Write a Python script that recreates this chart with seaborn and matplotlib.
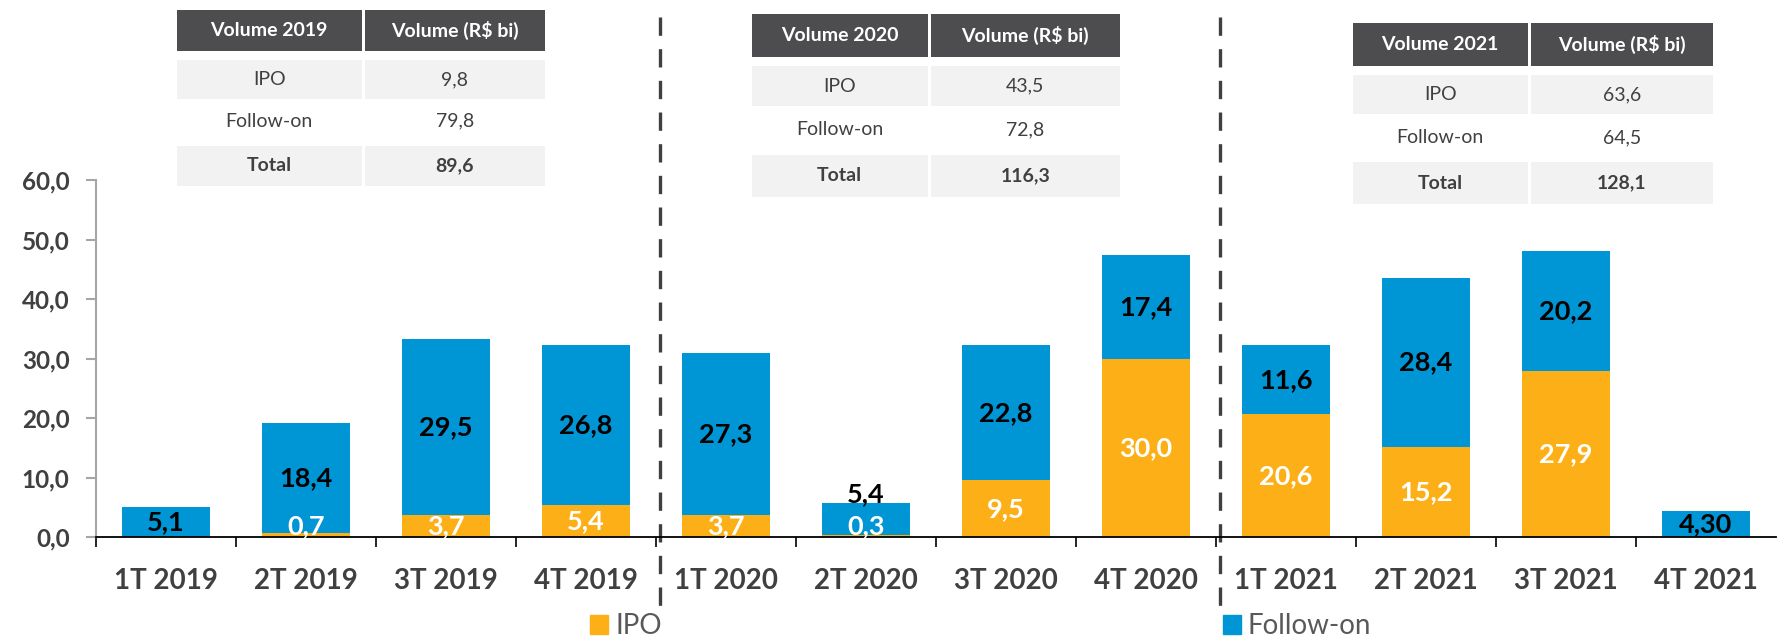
import numpy as np
import pandas as pd
import matplotlib
matplotlib.use("Agg")
import matplotlib.pyplot as plt
import seaborn as sns
from matplotlib.patches import Rectangle, Patch
from matplotlib.transforms import blended_transform_factory

# data (R$ bi)
quarters = ["1T 2019", "2T 2019", "3T 2019", "4T 2019",
            "1T 2020", "2T 2020", "3T 2020", "4T 2020",
            "1T 2021", "2T 2021", "3T 2021", "4T 2021"]
ipo = [0.0, 0.7, 3.7, 5.4, 3.7, 0.3, 9.5, 30.0, 20.6, 15.2, 27.9, 0.0]
follow_on = [5.1, 18.4, 29.5, 26.8, 27.3, 5.4, 22.8, 17.4, 11.6, 28.4, 20.2, 4.3]
follow_labels = ["5,1", "18,4", "29,5", "26,8", "27,3", "5,4",
                 "22,8", "17,4", "11,6", "28,4", "20,2", "4,30"]

table_years = ["2019", "2020", "2021"]
table_ipo = [9.8, 43.5, 63.6]
table_follow = [79.8, 72.8, 64.5]
table_total = [89.6, 116.3, 128.1]

yticks = [0, 10, 20, 30, 40, 50, 60]

ORANGE = "#FCAF17"
BLUE = "#0096D6"
DARK = "#404040"
HEADER = "#4D4D4F"
LIGHT = "#F2F2F2"

W, H = 1779, 637


def br(v, d=1):
    return f"{v:.{d}f}".replace(".", ",")


sns.set_theme(style="white")
plt.rcParams["font.family"] = ["Lato", "DejaVu Sans"]

fig = plt.figure(figsize=(W / 100, H / 100), dpi=100)
ax = fig.add_axes([96 / W, 1 - 537 / H, 1680 / W, (537 - 180) / H])

df = pd.DataFrame({"quarter": quarters, "ipo": ipo, "follow": follow_on})
df["total"] = df["ipo"] + df["follow"]

# stacked bars: full height in blue, IPO part over it in orange
sns.barplot(data=df, x="quarter", y="total", color=BLUE, width=0.63,
            saturation=1, linewidth=0, ax=ax)
sns.barplot(data=df, x="quarter", y="ipo", color=ORANGE, width=0.63,
            saturation=1, linewidth=0, ax=ax)

ax.set_xlim(-0.5, 11.5)
ax.set_ylim(0, 60)
ax.set_xlabel("")
ax.set_ylabel("")

for s in ["top", "right"]:
    ax.spines[s].set_visible(False)
ax.spines["bottom"].set_color("black")
ax.spines["bottom"].set_linewidth(1.3)
ax.spines["left"].set_color("#A6A6A6")
ax.spines["left"].set_linewidth(1.5)

ax.set_yticks(yticks)
ax.set_yticklabels([br(v) for v in yticks], fontweight="bold")
ax.tick_params(axis="y", left=True, length=7, width=1.5, color="#A6A6A6",
               pad=12, labelsize=17.5, labelcolor=DARK)

ax.set_xticks(range(len(quarters)))
ax.set_xticklabels(quarters, fontweight="bold")
ax.set_xticks(np.arange(-0.5, 11, 1), minor=True)
ax.tick_params(axis="x", which="major", length=0, pad=22, labelsize=20,
               labelcolor=DARK)
ax.tick_params(axis="x", which="minor", bottom=True, length=7.5, width=1.2,
               color="black", direction="out")

# value labels
for i, (a, b, fl) in enumerate(zip(ipo, follow_on, follow_labels)):
    nudged = False
    if a > 0:
        ya = a / 2
        if ya < 1.9:
            ya = 1.9
            nudged = True
        ax.text(i, ya, br(a), ha="center", va="center", color="white",
                fontsize=19.5, fontweight="bold")
    if nudged and b < 8:
        yb = a + b + 1.5
    else:
        yb = a + b / 2
    ax.text(i, yb, fl, ha="center", va="center", color="black",
            fontsize=19.5, fontweight="bold")

# dashed year separators
trans = blended_transform_factory(ax.transData, fig.transFigure)
for xs in [3.53, 7.53]:
    ax.plot([xs, xs], [1 - 17 / H, 1 - 618 / H], transform=trans,
            clip_on=False, color=DARK, lw=2.4, ls=(0, (5.5, 4)))

# summary tables drawn on an overlay in pixel units
tax = fig.add_axes([0, 0, 1, 1])
tax.set_xlim(0, W)
tax.set_ylim(H, 0)
tax.axis("off")

table_boxes = [(177, 363, 545, 10, 186),
               (752, 929, 1120, 14, 197),
               (1353, 1529, 1713, 23, 204)]
rows = [(0.0, 0.235), (0.285, 0.505), (0.51, 0.755), (0.77, 1.0)]

for k, (l, sp, r, t, b) in enumerate(table_boxes):
    h = b - t
    cells = [
        ("Volume " + table_years[k], "Volume (R$ bi)", HEADER, "white", "bold"),
        ("IPO", br(table_ipo[k]), LIGHT, DARK, "normal"),
        ("Follow-on", br(table_follow[k]), None, DARK, "normal"),
        ("Total", br(table_total[k]), LIGHT, DARK, "bold"),
    ]
    for (f0, f1), (c1, c2, fc, tc, fw) in zip(rows, cells):
        y0, y1 = t + f0 * h, t + f1 * h
        for x0, x1, txt in [(l, sp - 1.5, c1), (sp + 1.5, r, c2)]:
            if fc is not None:
                tax.add_patch(Rectangle((x0, y0), x1 - x0, y1 - y0,
                                        facecolor=fc, edgecolor="none"))
            tax.text((x0 + x1) / 2, (y0 + y1) / 2, txt, ha="center",
                     va="center", color=tc, fontsize=14, fontweight=fw)

# legend, two entries placed far apart
leg_kw = dict(loc="center left", frameon=False, fontsize=20,
              handlelength=0.65, handleheight=0.65, handletextpad=0.25,
              borderpad=0, borderaxespad=0, labelcolor="#595959")
fig.legend(handles=[Patch(color=ORANGE, label="IPO")],
           bbox_to_anchor=(590 / W, 1 - 626 / H), **leg_kw)
fig.legend(handles=[Patch(color=BLUE, label="Follow-on")],
           bbox_to_anchor=(1223 / W, 1 - 626 / H), **leg_kw)

fig.savefig("out.png", dpi=100)
